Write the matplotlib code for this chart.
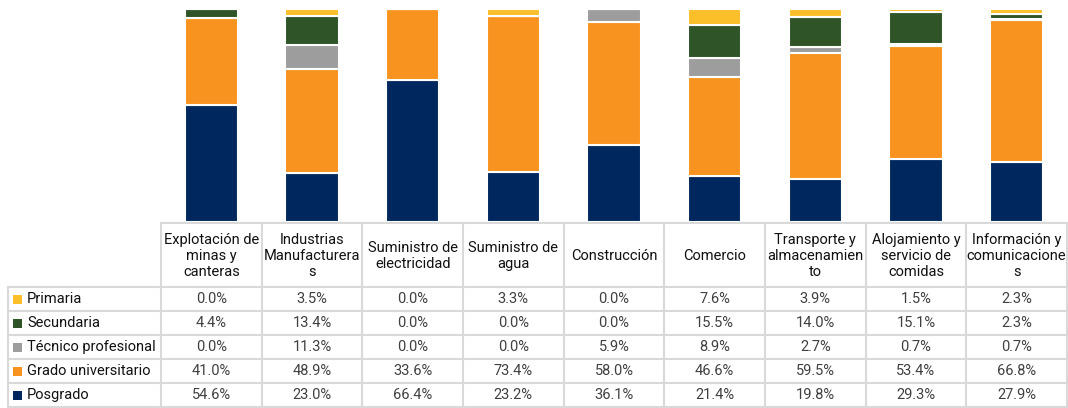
import matplotlib
matplotlib.use("Agg")
import matplotlib.pyplot as plt
import numpy as np

plt.rcParams['font.family'] = ['Roboto', 'DejaVu Sans']

# data
sectores = ["Explotación de\nminas y\ncanteras", "Industrias\nManufacturera\ns",
            "Suministro de\nelectricidad", "Suministro de\nagua", "Construcción",
            "Comercio", "Transporte y\nalmacenamien\nto", "Alojamiento y\nservicio de\ncomidas",
            "Información y\ncomunicacione\ns"]
niveles = ["Primaria", "Secundaria", "Técnico profesional", "Grado universitario", "Posgrado"]
primaria = [0.0, 3.5, 0.0, 3.3, 0.0, 7.6, 3.9, 1.5, 2.3]
secundaria = [4.4, 13.4, 0.0, 0.0, 0.0, 15.5, 14.0, 15.1, 2.3]
tecnico = [0.0, 11.3, 0.0, 0.0, 5.9, 8.9, 2.7, 0.7, 0.7]
grado = [41.0, 48.9, 33.6, 73.4, 58.0, 46.6, 59.5, 53.4, 66.8]
posgrado = [54.6, 23.0, 66.4, 23.2, 36.1, 21.4, 19.8, 29.3, 27.9]
colores = ["#FBBF2A", "#2F5428", "#9D9D9D", "#F7931E", "#00285E"]

W, H = 1068, 408
fig = plt.figure(figsize=(W / 100, H / 100), dpi=100)

x_left, x_right = 161, 1067
ax = fig.add_axes([x_left / W, (H - 221.5) / H, (x_right - x_left) / W, (221.5 - 9) / H])
x = np.arange(len(sectores))
series = [posgrado, grado, tecnico, secundaria, primaria]
cols = colores[::-1]
bottom = np.zeros(len(sectores))
for vals, c in zip(series, cols):
    v = np.array(vals)
    ax.bar(x, v, 0.53, bottom=bottom, color=c, edgecolor="white", linewidth=1.5)
    bottom += v
ax.set_xlim(-0.5, len(sectores) - 0.5)
ax.set_ylim(0, 100)
ax.axis("off")

# table drawn in pixel coordinates
tb = fig.add_axes([0, 0, 1, 1])
tb.set_xlim(0, W)
tb.set_ylim(H, 0)
tb.axis("off")
gc = "#D9D9D9"
cw = (x_right - x_left) / len(sectores)
row_tops = [287, 311, 335, 359, 383, 407]
head_top = 223
for i in range(len(sectores) + 1):
    xx = x_left + i * cw
    tb.plot([xx, xx], [head_top, 407], color=gc, lw=1.5)
tb.plot([8, 8], [row_tops[0], 407], color=gc, lw=1.5)
tb.plot([x_left, x_right], [head_top, head_top], color=gc, lw=1.5)
for y in row_tops:
    tb.plot([8, x_right], [y, y], color=gc, lw=1.5)

for i, s in enumerate(sectores):
    tb.text(x_left + (i + 0.5) * cw, (head_top + row_tops[0]) / 2 + 1, s, ha="center", va="center",
            fontsize=10.5, color="#111111", linespacing=1.2)

tabla = [primaria, secundaria, tecnico, grado, posgrado]
for r, (nivel, vals) in enumerate(zip(niveles, tabla)):
    yc = (row_tops[r] + row_tops[r + 1]) / 2
    tb.add_patch(plt.Rectangle((13, yc - 4.5), 9, 9, color=colores[r], lw=0))
    tb.text(27, yc, nivel, ha="left", va="center", fontsize=10.5, color="#111111")
    for i, v in enumerate(vals):
        tb.text(x_left + (i + 0.5) * cw, yc, f"{v:.1f}%", ha="center", va="center",
                fontsize=10.5, color="#404040")

fig.savefig("out.png", dpi=100)
